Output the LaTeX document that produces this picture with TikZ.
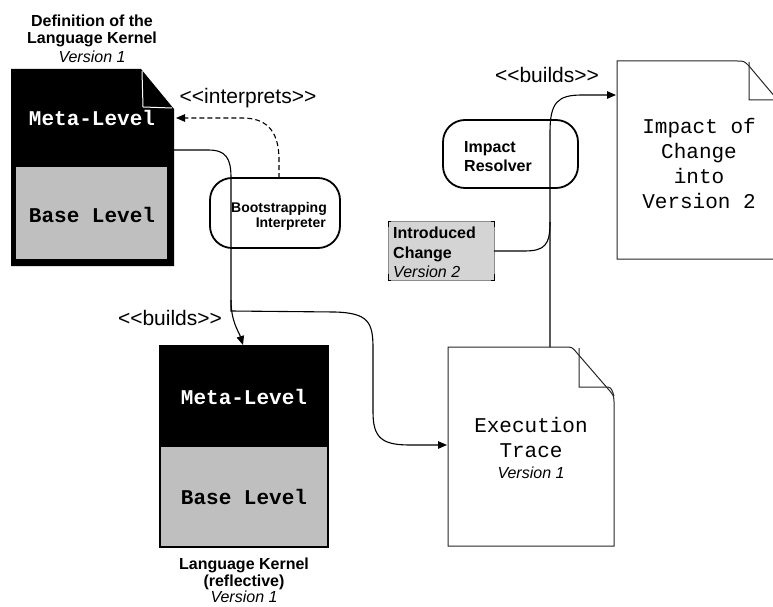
\documentclass[tikz,border=0pt]{standalone}
\usepackage{fontspec}
\setmainfont{Liberation Sans}
\newfontfamily\monofam{Liberation Mono}
\usetikzlibrary{arrows.meta}
\begin{document}
\begin{tikzpicture}[x=1pt,y=-1pt,
  lbl/.style={inner sep=0pt, anchor=base, font=\fontsize{21}{25}\selectfont},
  bsmall/.style={inner sep=0pt, anchor=base, font=\fontsize{16}{19}\selectfont\bfseries},
  ismall/.style={inner sep=0pt, anchor=base, font=\fontsize{16}{19}\selectfont\itshape},
  btiny/.style={inner sep=0pt, anchor=base east, font=\fontsize{14}{17}\selectfont\bfseries},
  mono/.style={inner sep=0pt, anchor=base, font=\fontsize{21}{25}\monofam},
  monob/.style={inner sep=0pt, anchor=base, font=\fontsize{21}{25}\monofam\bfseries},
  conn/.style={line width=1.1pt},
  tip/.style={-{Triangle[length=9pt,width=7.5pt]}},
  pill/.style={draw, line width=1.8pt, rounded corners=22pt},
  docline/.style={line width=1pt, draw=black!85},
]
\useasboundingbox (0,0) rectangle (773,607);
\clip (0,0) rectangle (773,607);

% ---------- Definition of the Language Kernel (black document) ----------
\fill (11,69) -- (141,69) -- (174,109) -- (174,266) -- (11,266) -- cycle;
\fill[black!25] (16,167) rectangle (167,259);
\draw[white, line width=1pt] (142,71) -- (143,107) -- (172,108);
\coordinate (defout) at (174,150);
\coordinate (defin) at (176,118);

% ---------- Language Kernel (reflective) ----------
\fill (160,346) rectangle (328,447);
\fill[black!25] (160,447) rectangle (328,547);
\draw[line width=2pt] (160,346) rectangle (328,547);
\coordinate (kerntop) at (243,345);

% ---------- Bootstrapping Interpreter (pill) ----------
\draw[pill] (210,178) rectangle (340,248);
\coordinate (boottop) at (279,178);

% ---------- Impact Resolver (pill) ----------
\draw[pill] (443,120) rectangle (578,188);

% ---------- Introduced Change ----------
\fill[black!17] (388,221) rectangle (494,280);
\draw[black!45, line width=0.8pt] (388,221) rectangle (494,280);
\draw[line width=1pt] (388,227) -- (388,221) -- (391,221);
\draw[line width=1pt] (388,274) -- (388,280) -- (391,280);
\draw[line width=1pt] (494,227) -- (494,221) -- (491,221);
\draw[line width=1pt] (494,274) -- (494,280) -- (491,280);
\coordinate (chgout) at (494,251);

% ---------- Execution Trace (document) ----------
\draw[docline, fill=white] (448,347) -- (565,347) .. controls (572,347) .. (577,353)
  -- (609,390) .. controls (614,396) .. (614,404) -- (614,546) -- (448,546) -- cycle;
\draw[docline] (579,348) -- (579,387) -- (605,387) .. controls (611,387) .. (614,396);
\coordinate (exetop) at (550,347);
\coordinate (exein) at (447,445);

% ---------- Impact of Change into Version 2 (document) ----------
\draw[docline, fill=white] (617,61) -- (737,61) .. controls (744,61) .. (749,66)
  -- (781,104) .. controls (786,110) .. (786,118) -- (786,259) -- (617,259) -- cycle;
\draw[docline] (749,62) -- (749,100) -- (776,100) .. controls (782,100) .. (786,108);
\coordinate (impin) at (616,95);

% ---------- connectors ----------
\draw[conn, dashed, dash pattern=on 5pt off 3pt, tip] (boottop) -- (279,160)
  .. controls (279,128) and (264,118) .. (242,118) -- (defin);
\draw[conn, tip] (defout) -- (208,150) .. controls (226,150) and (231,158) .. (231,178)
  -- (231,300) .. controls (231,322) and (239,332) .. (kerntop);
\draw[conn, tip] (231,300) -- (231,311) -- (335,312)
  .. controls (368,313) and (373,322) .. (373,348) -- (373,412)
  .. controls (373,438) and (382,445) .. (410,445) -- (exein);
\draw[conn, tip] (exetop) -- (550,132) .. controls (550,102) and (558,95) .. (582,95) -- (impin);
\draw[conn] (chgout) -- (524,251) .. controls (545,251) and (550,245) .. (550,222);

% ---------- texts ----------
\node[bsmall] (t1) at (92,27) {Definition of the};
\node[bsmall] (t2) at (92,44) {Language Kernel};
\node[ismall] (t3) at (92,63) {Version 1};
\node[monob, text=white] (m1) at (92,125) {Meta-Level};
\node[monob] (b1) at (92,222) {Base Level};
\node[lbl] (interp) at (248,104) {<{}<interprets>{}>};

\node[btiny] (bi1) at (327,212) {Bootstrapping};
\node[btiny] (bi2) at (326,227) {Interpreter};

\node[lbl] (builds1) at (170,325) {<{}<builds>{}>};
\node[monob, text=white] (m2) at (244,404) {Meta-Level};
\node[monob] (b2) at (244,504) {Base Level};
\node[bsmall] (k1) at (244,569) {Language Kernel};
\node[bsmall] (k2) at (244,586) {(reflective)};
\node[ismall] (k3) at (244,602) {Version 1};

\node[mono] (e1) at (531,432) {Execution};
\node[mono] (e2) at (531,457) {Trace};
\node[ismall] (e3) at (531,478) {Version 1};

\node[lbl] (builds2) at (547,83) {<{}<builds>{}>};
\node[bsmall, anchor=base west] (ir1) at (464,152) {Impact};
\node[bsmall, anchor=base west] (ir2) at (464,171) {Resolver};

\node[bsmall, anchor=base west] (ic1) at (393,238) {Introduced};
\node[bsmall, anchor=base west] (ic2) at (393,258) {Change};
\node[ismall, anchor=base west] (ic3) at (393,277) {Version 2};

\node[mono] (i1) at (699,133) {Impact of};
\node[mono] (i2) at (699,158) {Change};
\node[mono] (i3) at (699,183) {into};
\node[mono] (i4) at (699,208) {Version 2};
\end{tikzpicture}
\end{document}
